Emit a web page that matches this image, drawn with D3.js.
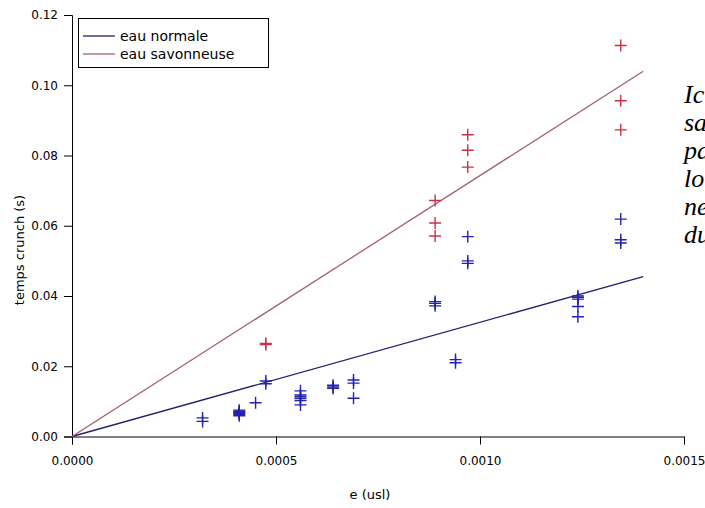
<!DOCTYPE html>
<html><head><meta charset="utf-8">
<script src="https://cdn.jsdelivr.net/npm/d3@7"></script>
<style>
body{margin:0;background:#fff;overflow:hidden}
svg{display:block}
</style></head>
<body>
<svg id="c" width="705" height="508"></svg>
<script>
// ---- data ----
const seriesNames = ["eau normale", "eau savonneuse"];
const normalE = [0.00032,0.00032,
  0.00041,0.00041,0.00041,0.00041,0.00041,0.00041,
  0.00045,
  0.000475,0.000475,
  0.00056,0.00056,0.00056,0.00056,0.00056,0.00056,
  0.00064,0.00064,0.00064,
  0.00069,0.00069,0.00069,
  0.00089,0.00089,0.00089,
  0.00094,0.00094,
  0.00097,0.00097,0.00097,
  0.00124,0.00124,0.00124,0.00124,0.00124,
  0.001345,0.001345,0.001345];
const normalT = [0.0053,0.0043,
  0.0059,0.0063,0.0066,0.0069,0.0072,0.0075,
  0.0096,
  0.0158,0.0150,
  0.0130,0.0118,0.0113,0.0108,0.0102,0.0090,
  0.0146,0.0141,0.0137,
  0.0161,0.0152,0.0109,
  0.0384,0.0379,0.0372,
  0.0219,0.0210,
  0.0569,0.0500,0.0493,
  0.0400,0.0396,0.0391,0.0370,0.0341,
  0.0619,0.0560,0.0551];
const soapE = [0.000475,0.000475,0.00089,0.00089,0.00089,0.00097,0.00097,0.00097,0.001345,0.001345,0.001345];
const soapT = [0.0265,0.0262,0.0672,0.0608,0.0571,0.0859,0.0815,0.0767,0.1113,0.0956,0.0873];
const fitE = [0, 0.0014];
const normalFitT = [0, 0.0455];
const soapFitT = [0, 0.104];
const xTicks = [0, 0.0005, 0.0010, 0.0015];
const yTicks = [0, 0.02, 0.04, 0.06, 0.08, 0.10, 0.12];
const xLabel = "e (usl)";
const yLabel = "temps crunch (s)";
const sideText = ["Ic", "sa", "pa", "lo", "ne", "du"];

// ---- styles ----
const blueMark = "#2222b0", redMark = "#c8304c";
const blueLine = "#23216e", redLine = "#a8606e";
const sans = "DejaVu Sans, sans-serif";

const svg = d3.select("#c");
const x = d3.scaleLinear().domain([0, 0.0015]).range([72, 684]);
const y = d3.scaleLinear().domain([0, 0.12]).range([436.5, 15]);

// minor ticks
const xMinor = d3.range(0, 16).map(i => i * 0.0001);
const yMinor = d3.range(0, 19).map(i => i * 0.02 / 3);

const gx = svg.append("g").attr("transform", `translate(0,${y(0)})`);
gx.call(d3.axisBottom(x).tickValues(xMinor).tickSize(7).tickFormat(""));
gx.call(d3.axisBottom(x).tickValues(xTicks).tickSize(8).tickPadding(12).tickFormat(d3.format(".4f")));
gx.selectAll("text").attr("font-family", sans).attr("font-size", 12).attr("fill", "#000");

const gy = svg.append("g").attr("transform", `translate(${x(0)},0)`);
gy.call(d3.axisLeft(y).tickValues(yMinor).tickSize(7).tickFormat(""));
gy.call(d3.axisLeft(y).tickValues(yTicks).tickSize(8).tickPadding(6).tickFormat(d3.format(".2f")));
gy.selectAll("text").attr("font-family", sans).attr("font-size", 12).attr("fill", "#000");
svg.selectAll(".domain").attr("stroke", "#000");

// axis titles
svg.append("text").attr("x", 370).attr("y", 499).attr("text-anchor", "middle")
  .attr("font-family", sans).attr("font-size", 13).text(xLabel);
svg.append("text").attr("transform", "translate(24,250) rotate(-90)").attr("text-anchor", "middle")
  .attr("font-family", sans).attr("font-size", 13).text(yLabel);

// fit lines
const line = d3.line().x(d => x(d[0])).y(d => y(d[1]));
svg.append("path").attr("d", line(d3.zip(fitE, normalFitT))).attr("stroke", blueLine).attr("stroke-width", 1.3).attr("fill", "none");
svg.append("path").attr("d", line(d3.zip(fitE, soapFitT))).attr("stroke", redLine).attr("stroke-width", 1.3).attr("fill", "none");

// markers
const plus = "M-6,0H6M0,-6V6";
function marks(E, T, col) {
  svg.append("g").selectAll("path").data(d3.zip(E, T)).join("path")
    .attr("transform", d => `translate(${x(d[0])},${y(d[1])})`)
    .attr("d", plus).attr("stroke", col).attr("stroke-width", 1.4).attr("fill", "none");
}
marks(normalE, normalT, blueMark);
marks(soapE, soapT, redMark);

// legend
const lg = svg.append("g");
lg.append("rect").attr("x", 78.5).attr("y", 18.5).attr("width", 190).attr("height", 49)
  .attr("fill", "#fff").attr("stroke", "#000").attr("stroke-width", 1);
[blueLine, redLine].forEach((c, i) => {
  lg.append("line").attr("x1", 83).attr("x2", 115).attr("y1", 36 + i * 18).attr("y2", 36 + i * 18)
    .attr("stroke", c).attr("stroke-width", 1.3);
  lg.append("text").attr("x", 120).attr("y", 41 + i * 18).attr("font-family", sans)
    .attr("font-size", 14).text(seriesNames[i]);
});

// side text (clipped at the right edge, as in the reference)
svg.append("g").selectAll("text").data(sideText).join("text")
  .attr("x", 684).attr("y", (d, i) => 103 + i * 28)
  .attr("font-family", "Liberation Serif, Times New Roman, serif").attr("font-style", "italic")
  .attr("font-size", 26).text(d => d);
</script>
</body></html>
